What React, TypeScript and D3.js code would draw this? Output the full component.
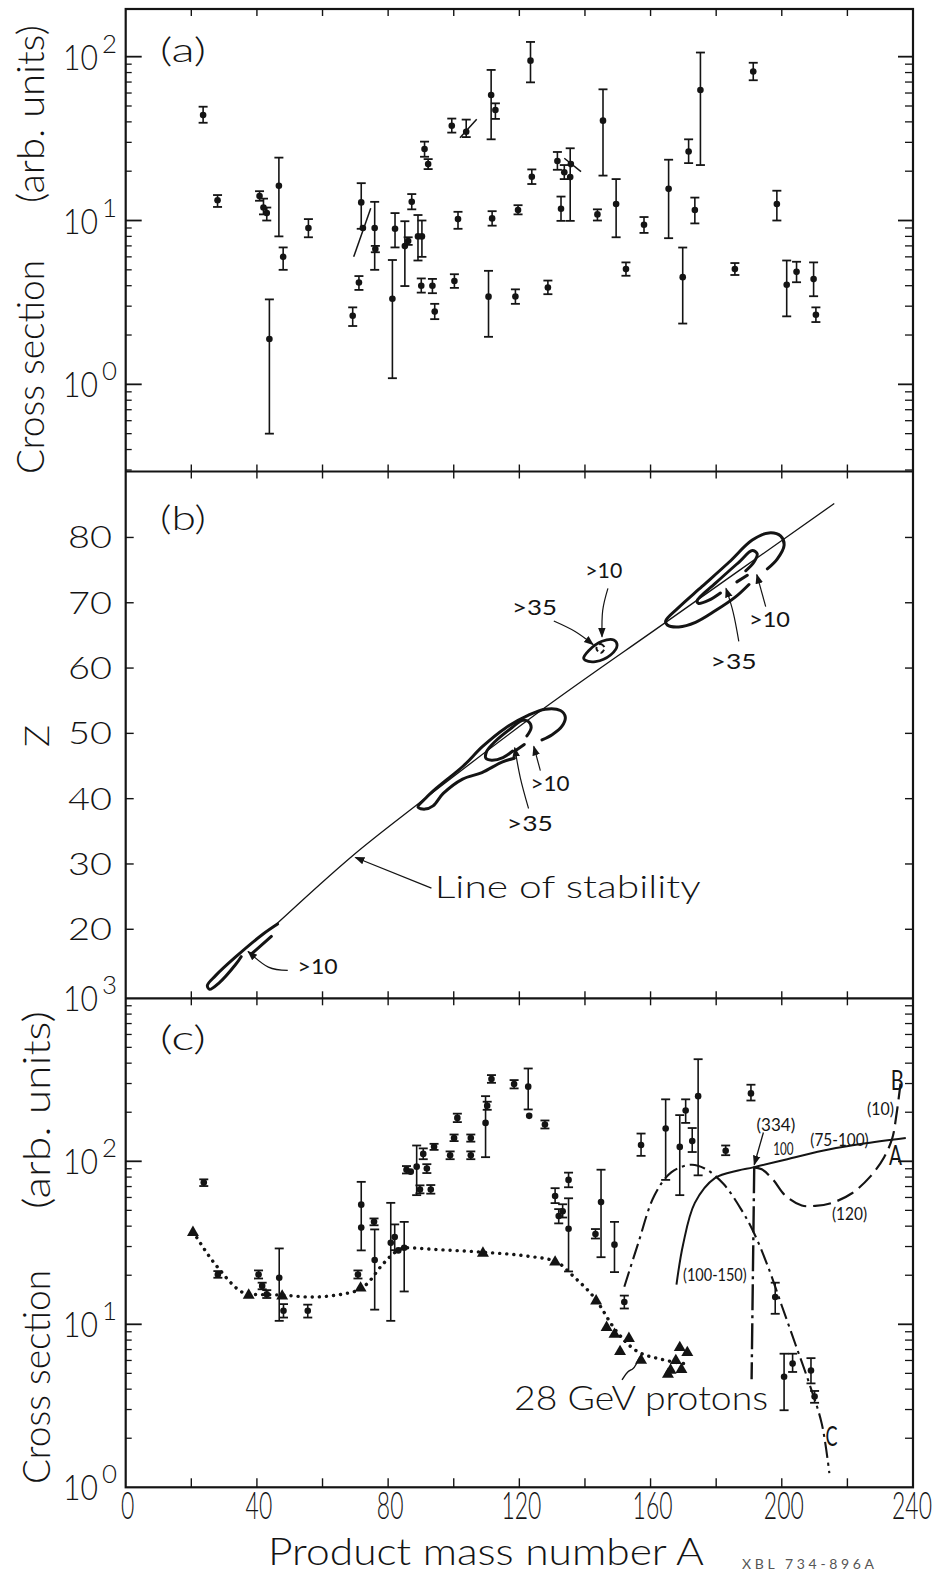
import { useEffect, useRef } from 'react';
import * as d3 from 'd3';

// ---------------- panel (a) ----------------
const aMass = [23.6, 28.0, 40.8, 42.0, 43.0, 46.7, 48.0, 43.8, 55.7, 69.2, 71.1, 71.8, 72.3, 75.9, 76.1, 81.3, 82.1, 85.1, 86.1, 87.2, 89.1, 90.3, 90.1, 93.5, 94.2, 91.1, 92.2, 99.4, 100.2, 101.3, 103.8,
  111.4, 112.7, 123.4, 123.8, 111.7, 110.6, 118.8, 119.6, 128.7, 131.6, 133.7, 132.7, 135.5, 135.7, 143.8, 145.5, 149.5, 152.5, 158.0, 165.5, 169.8, 171.6, 173.5, 175.2, 185.7, 191.3, 198.5, 201.5, 204.5, 209.7, 210.4];
const aValue = [44, 13.3, 14.1, 12.0, 11.1, 16.3, 6.0, 1.89, 9.0, 2.62, 4.18, 12.9, 9.0, 9.0, 6.7, 3.33, 8.9, 6.98, 7.5, 13.0, 8.0, 8.0, 4.0, 4.0, 2.78, 27.3, 22.1, 37.9, 4.27, 10.2, 34.8,
  58.3, 47.3, 94.6, 18.5, 10.3, 3.43, 3.44, 11.6, 3.9, 23.1, 19.7, 11.8, 18.4, 22.1, 10.9, 40.7, 12.6, 5.05, 9.42, 15.6, 4.51, 26.4, 11.6, 62.6, 5.05, 81.2, 12.6, 4.05, 4.86, 4.39, 2.66];
const aLow = [39.5, 12.1, 13.2, 10.9, 10.0, 8.0, 5.0, 0.5, 7.9, 2.27, 3.77, 8.9, 9.0, 5.0, 6.4, 1.09, 6.85, 3.98, 7.1, 11.7, 5.7, 6.0, 3.63, 3.6, 2.5, 24.5, 20.6, 34.4, 3.88, 8.9, 32.3,
  31.3, 41.7, 69.7, 16.7, 9.3, 1.95, 3.1, 10.9, 3.55, 20.4, 17.9, 9.95, 9.95, 22.1, 10.0, 18.8, 7.9, 4.6, 8.4, 7.8, 2.35, 22.4, 9.6, 21.8, 4.65, 71.8, 10.0, 2.6, 4.2, 3.45, 2.4];
const aHigh = [49.5, 14.3, 15.1, 13.6, 12.0, 24.2, 6.85, 3.3, 10.2, 2.95, 4.58, 16.9, 9.0, 13.0, 7.0, 5.74, 11.1, 9.9, 7.9, 14.5, 10.8, 10.0, 4.43, 4.4, 3.1, 30.3, 23.7, 41.9, 4.7, 11.3, 41.3,
  83, 51.9, 123, 20.5, 11.4, 4.93, 3.8, 12.4, 4.3, 26.2, 21.8, 14.0, 27.6, 22.1, 11.7, 63.2, 17.9, 5.55, 10.5, 23.5, 6.84, 31.3, 13.8, 106, 5.5, 91.8, 15.2, 5.7, 5.6, 5.55, 2.95];

// slanted strokes in (a)
const slantFromA = [69.5, 101.9, 133.7];
const slantFromV = [6.0, 32.0, 24.0];
const slantToA = [74.7, 107.0, 138.8];
const slantToV = [11.9, 41.5, 19.9];

// ---------------- panel (b) ----------------
const stabilityA = [45.3, 69, 88.6, 127.4, 164.6, 216];
const stabilityZ = [20.5, 31.2, 39, 53.8, 67, 85.2];

const loopLow = [[46.3, 20.8], [41.7, 19.2], [33.6, 15.8], [27.4, 12.9], [24.9, 11.4], [25.6, 10.8], [28.5, 11.8], [33.5, 14.6], [35.2, 15.8]];
const loopLowDash = [[38.5, 16.3], [44.4, 18.9]];

const loopMidOuter = [[118.5, 46.2], [114.7, 45.6], [108.6, 44.0], [102.7, 43.0], [96.8, 40.8], [93.7, 38.9], [91.2, 38.4], [89.1, 38.7], [91.5, 40.1], [94.7, 41.6], [102.9, 45.0], [108.8, 48.0], [115.7, 50.8], [122.8, 52.8], [127.9, 53.7], [132.5, 53.5], [134, 52.5], [133, 51.1], [130, 49.8], [126.9, 49.0]];
const loopMidInner = [[122.3, 49.6], [123.6, 50.9], [122.8, 51.8], [121.0, 52.0], [117.8, 50.9], [112.7, 48.8], [110.0, 47.2], [109.8, 46.2], [111.5, 45.9], [115.0, 46.3], [118.0, 47.3]];
const loopMidDash = [[119.2, 47.5], [121.5, 48.3]];

const loopSmallOuter = [[139.6, 61.5], [141.2, 62.7], [145.2, 64.1], [148.8, 64.3], [149.8, 63.5], [147.8, 62.0], [143.2, 61.0], [140.1, 61.2]];
const loopSmallInner = [[143.5, 63.0], [144.7, 63.7], [146.0, 63.1], [144.8, 62.3]];

const loopUpOuter = [[190.0, 72.8], [185.9, 70.9], [179.8, 68.8], [173.7, 67.0], [168.6, 66.3], [165.1, 66.6], [164.6, 67.2], [168.6, 69.3], [175.7, 72.5], [183.9, 76.2], [191.0, 79.6], [196.1, 80.7], [199.7, 80.2], [200.7, 78.8], [198.6, 76.7], [195.6, 75.2]];
const loopUpInner = [[181.3, 71.5], [177.8, 70.4], [174.6, 69.9], [174.2, 70.3], [179.8, 73.0], [186.9, 76.2], [191.0, 78.0], [192.5, 77.5], [191.5, 76.2], [189.0, 74.9]];
const loopUpDash = [[186.3, 73.2], [189.5, 74.2]];

const bArrows = [
  [[49.4, 13.7], [43.5, 14.2], [37.3, 16.6]],
  [[126.4, 44.3], [124.4, 48.0]],
  [[122.8, 38.5], [120.3, 43.2], [118.6, 47.8]],
  [[147.0, 72.2], [145.4, 68.8], [145.2, 64.8]],
  [[130.5, 67.2], [137, 65.6], [142.5, 63.6]],
  [[195.1, 69.4], [192.4, 74.3]],
  [[186.9, 64.1], [185.2, 68.5], [183.0, 72.2]],
  [[93.2, 26.3], [70.0, 31.0]],
];

const bNotes = [
  { t: '>10', a: 52.4, z: 13.2, w: 40 },
  { t: '>10', a: 123.4, z: 41.1, w: 39 },
  { t: '>35', a: 116.2, z: 35.0, w: 46 },
  { t: '>10', a: 140.1, z: 73.8, w: 37 },
  { t: '>35', a: 117.8, z: 68.2, w: 45 },
  { t: '>10', a: 190.0, z: 66.3, w: 41 },
  { t: '>35', a: 178.3, z: 59.8, w: 46 },
];

// ---------------- panel (c) ----------------
const cMass = [23.8, 28.1, 40.5, 41.6, 43.0, 46.8, 48.1, 55.5, 70.8, 71.8, 71.8, 75.7, 75.9, 80.8, 82.0, 83.1, 84.9, 85.6, 86.9, 88.7, 89.7, 90.7, 91.8, 93.0, 94.0, 98.9, 100.1, 101.1, 105.2, 105.2,
  109.7, 110.2, 111.5, 118.4, 122.7, 123.0, 127.8, 130.9, 132.0, 133.2, 135.0, 135.0, 143.2, 144.9, 149.0, 152.0, 157.1, 164.6, 168.9, 170.7, 172.7, 174.5, 182.9, 190.6, 198.0, 200.7, 203.3, 208.9, 210.0];
const cValue = [74.0, 20.2, 20.2, 17.2, 15.3, 19.3, 12.1, 12.1, 20.2, 54.2, 39.2, 42.5, 24.8, 31.6, 34.3, 28.4, 29.5, 88.8, 86.4, 92.7, 67.2, 111, 90.3, 67.2, 122.7, 109, 139, 184.6, 109, 139,
  172, 219, 320, 298, 287, 190, 168, 61.3, 46.1, 49.4, 76.9, 38.6, 35.8, 56.2, 30.8, 13.7, 126, 159, 122.6, 205, 133, 251, 116, 261, 14.7, 4.77, 5.74, 5.21, 3.6];
const cLow = [70.5, 19.3, 19.1, 16.4, 14.5, 10.5, 11.0, 11.0, 19.1, 28.4, 39.2, 40.5, 12.3, 10.5, 28.5, 28.4, 15.9, 84.2, 86.4, 62, 63.6, 103, 84.7, 63.3, 117.5, 103, 133, 174, 103, 132,
  106, 207, 303, 280, 208, 190, 159, 55.4, 41.6, 45.2, 69.3, 21.1, 33.6, 25.8, 20.9, 12.5, 108, 76.9, 62, 172, 114, 82, 109, 236, 11.6, 2.97, 5.1, 4.34, 3.3];
const cHigh = [77.5, 21.2, 21.4, 18.0, 16.2, 29.2, 13.3, 13.2, 21.4, 74.8, 39.2, 44.6, 38.2, 55.6, 41.0, 28.4, 42.5, 93.5, 86.4, 125, 71.2, 120, 96.0, 71.5, 128, 115, 146, 196, 115, 146,
  251, 232, 338, 315, 371, 190, 178, 68.4, 50.9, 54.5, 85.2, 59.3, 38.4, 88.8, 42.5, 15.0, 148, 240, 192, 240, 160, 423, 125, 295, 18.0, 6.6, 6.6, 6.2, 3.9];

// 28 GeV protons (triangles) and their dotted curve
const protonMass = [20.5, 37.5, 47.7, 71.6, 108.9, 130.9, 143.4, 146.6, 149.0, 153.4, 150.7, 157.1, 168.9, 171.2, 167.7, 165.3, 166.1, 169.4];
const protonValue = [37.1, 15.3, 15.1, 16.9, 27.7, 24.4, 14.1, 9.7, 8.8, 8.3, 6.9, 6.1, 7.3, 6.8, 6.07, 5.0, 5.3, 5.36];
const dotCurveA = [20.5, 28, 37.5, 47.7, 56.5, 70.8, 73.9, 78, 83, 85.1, 94.3, 108.9, 122.4, 130.9, 136.7, 143.4, 149, 155.1, 163.3, 171.4];
const dotCurveV = [37.1, 22.4, 15.3, 15.1, 14.7, 16.1, 18.0, 22.9, 28.4, 29.5, 28.8, 27.7, 26.2, 24.4, 19.5, 14.1, 9.4, 7.0, 6.1, 5.7];

// calculated curves A, B, C
const curveAMass = [167.9, 169.9, 173.5, 179.6, 186.7, 191.3, 204.1, 214.3, 224.5, 237.8];
const curveAValue = [17.5, 30.8, 55.6, 78.9, 87.9, 91.8, 106, 118, 128, 139];
const curveBMass = [191.3, 193.9, 197.4, 201, 206.1, 210.2, 215.3, 221.4, 227.1, 231.2, 233.7, 234.9, 236.2];
const curveBValue = [91.8, 89.3, 76.9, 61.9, 53.6, 53.3, 55.6, 63.7, 81.1, 106, 139, 190, 300];
const dropMass = [191.6, 190.8];
const dropValue = [91.8, 4.6];
const curveCMass = [152, 156.1, 161.2, 166.3, 172.4, 176.5, 182.2, 187.8, 191.6, 195.9, 200, 204.1, 208.2, 212.2, 214.5];
const curveCValue = [17, 30.8, 61.9, 85.5, 95.3, 90.4, 72.8, 50.0, 36.1, 22.3, 13.0, 7.6, 4.44, 2.45, 1.22];

const squiggle = [[151.3, 4.56], [153.1, 5.2], [154.6, 5.27], [155.6, 5.65], [156.6, 6.3], [157.7, 6.6]];
const arrow334 = [[194.4, 150.3], [191.6, 95.3]];

const cNotes = [
  { t: '(334)', a: 192.3, v: 154.5, w: 38.7, s: 18 },
  { t: '100', a: 197.4, v: 108.9, w: 20.3, s: 18 },
  { t: '(75-100)', a: 208.7, v: 124.7, w: 58.4, s: 18 },
  { t: '(10)', a: 226, v: 191.9, w: 26.9, s: 18 },
  { t: 'B', a: 233.2, v: 272.3, w: 13, s: 27 },
  { t: 'A', a: 232.7, v: 95.3, w: 13, s: 27 },
  { t: '(120)', a: 215.3, v: 43.6, w: 35.1, s: 18 },
  { t: '(100-150)', a: 169.9, v: 18.45, w: 63.6, s: 18 },
  { t: 'C', a: 213.3, v: 1.78, w: 12, s: 27 },
  { t: '28 GeV protons', a: 118.4, v: 2.96, w: 254, s: 34 },
];

const massTicks = [0, 40, 80, 120, 160, 200, 240];
const zTicks = [20, 30, 40, 50, 60, 70, 80];

const W = 942;
const H = 1575;
const INK = '#141414';
const FONT = "Lato, 'DejaVu Sans', sans-serif";

const App = () => {
  const svgRef = useRef<SVGSVGElement>(null);

  useEffect(() => {
    const svg = d3.select(svgRef.current);
    svg.selectAll('*').remove();

    const TOP = 9;
    const DIV1 = 471.5;
    const DIV2 = 998.3;
    const BOTTOM = 1487.3;

    const x = d3.scaleLinear().domain([0, 240]).range([125.7, 913]);
    const yA = d3.scaleLog().domain([10 ** -0.532, 10 ** 2.291]).range([DIV1, TOP]);
    const yB = d3.scaleLinear().domain([9.43, 90.1]).range([DIV2, DIV1]);
    const yC = d3.scaleLog().domain([1, 1000]).range([BOTTOM, DIV2]);

    const g = svg.append('g').attr('font-family', FONT).attr('fill', INK);

    const defs = svg.append('defs');
    defs.append('marker')
      .attr('id', 'ah')
      .attr('viewBox', '0 0 10 10')
      .attr('refX', 9)
      .attr('refY', 5)
      .attr('markerWidth', 10)
      .attr('markerHeight', 10)
      .attr('markerUnits', 'userSpaceOnUse')
      .attr('orient', 'auto')
      .append('path')
      .attr('d', 'M0,1.2 L10,5 L0,8.8 Z')
      .attr('fill', INK);

    // ==========================================
    // FRAME + TICKS
    // ==========================================
    g.append('rect')
      .attr('x', x(0)).attr('y', TOP)
      .attr('width', x(240) - x(0)).attr('height', BOTTOM - TOP)
      .attr('fill', 'none').attr('stroke', INK).attr('stroke-width', 2.2);
    [DIV1, DIV2].forEach((yy) => {
      g.append('line').attr('x1', x(0)).attr('x2', x(240)).attr('y1', yy).attr('y2', yy)
        .attr('stroke', INK).attr('stroke-width', 2.2);
    });

    const tick = (x1: number, y1: number, x2: number, y2: number, w = 1.4) =>
      g.append('line').attr('x1', x1).attr('y1', y1).attr('x2', x2).attr('y2', y2)
        .attr('stroke', INK).attr('stroke-width', w);

    d3.range(20, 240, 20).forEach((v) => {
      const xx = x(v);
      tick(xx, TOP, xx, TOP + 7);
      tick(xx, DIV1 - 7, xx, DIV1 + 7);
      tick(xx, DIV2 - 7, xx, DIV2 + 7);
      tick(xx, BOTTOM - 9, xx, BOTTOM);
    });

    const logTicks = (scale: d3.ScaleLogarithmic<number, number>) => {
      const [lo, hi] = scale.domain();
      const out: { v: number; major: boolean }[] = [];
      for (let e = -1; e <= 3; e++) {
        for (let m = 1; m <= 9; m++) {
          const v = m * 10 ** e;
          if (v > lo * 1.001 && v < hi * 0.999) out.push({ v, major: m === 1 });
        }
      }
      return out;
    };
    [yA, yC].forEach((sc) => {
      logTicks(sc).forEach(({ v, major }) => {
        const yy = sc(v);
        const len = major ? 16 : 6;
        tick(x(0), yy, x(0) + len, yy, major ? 1.8 : 1.3);
        tick(x(240) - (major ? 15 : 8), yy, x(240), yy, major ? 1.8 : 1.3);
      });
    });
    zTicks.forEach((z) => {
      tick(x(0), yB(z), x(0) + 8, yB(z));
      tick(x(240) - 8, yB(z), x(240), yB(z));
    });

    // ==========================================
    // TICK LABELS
    // ==========================================
    const decade = (yy: number, exp: number) => {
      g.append('text').attr('x', 63).attr('y', yy + 13)
        .attr('font-size', 36).attr('font-weight', 300)
        .attr('textLength', 35).attr('lengthAdjust', 'spacingAndGlyphs')
        .text('10');
      g.append('text').attr('x', 102).attr('y', yy - 4)
        .attr('font-size', 26).attr('font-weight', 300)
        .attr('textLength', 15).attr('lengthAdjust', 'spacingAndGlyphs')
        .text(String(exp));
    };
    [0, 1, 2].forEach((e) => decade(yA(10 ** e), e));
    [0, 1, 2, 3].forEach((e) => decade(yC(10 ** e), e));

    zTicks.forEach((z) => {
      g.append('text').attr('x', 112).attr('y', yB(z) + 11)
        .attr('text-anchor', 'end').attr('font-size', 31).attr('font-weight', 300)
        .attr('textLength', 44).attr('lengthAdjust', 'spacingAndGlyphs')
        .text(String(z));
    });

    // condensed bottom numbers: squeezed horizontally by a transform
    massTicks.forEach((v) => {
      const cx = v === 240 ? x(v) - 1 : x(v) + 2;
      g.append('text')
        .attr('transform', `translate(${cx},1519) scale(0.62,1)`)
        .attr('text-anchor', 'middle').attr('font-size', 37).attr('font-weight', 300)
        .text(String(v));
    });

    // ==========================================
    // TITLES
    // ==========================================
    g.append('text').attr('x', 268).attr('y', 1565).attr('font-size', 38).attr('font-weight', 300)
      .attr('textLength', 436).attr('lengthAdjust', 'spacingAndGlyphs')
      .text('Product  mass  number  A');

    const vtext = (t: string, bx: number, cy: number, len: number, size = 38) =>
      g.append('text')
        .attr('transform', `translate(${bx},${cy}) rotate(-90)`)
        .attr('text-anchor', 'middle').attr('font-size', size).attr('font-weight', 300)
        .attr('textLength', len).attr('lengthAdjust', 'spacingAndGlyphs')
        .text(t);
    vtext('Cross section', 44, 367, 214);
    vtext('(arb. units)', 44, 114, 178);
    vtext('Cross section', 50, 1377, 214);
    vtext('(arb. units)', 50, 1110, 198);
    vtext('Z', 49, 736, 22, 34);

    [['(a)', 62], ['(b)', 530], ['(c)', 1050]].forEach(([t, yy]) => {
      g.append('text').attr('x', 160).attr('y', yy as number).attr('font-size', 34).attr('font-weight', 300)
        .attr('textLength', 46).attr('lengthAdjust', 'spacingAndGlyphs')
        .text(t as string);
    });

    g.append('text').attr('x', 742).attr('y', 1569).attr('font-size', 14)
      .attr('fill', '#555').attr('textLength', 132).text('XBL 734-896A');

    // ==========================================
    // ERROR-BAR POINTS
    // ==========================================
    const points = (mass: number[], val: number[], low: number[], high: number[], sc: d3.ScaleLogarithmic<number, number>) => {
      mass.forEach((m, i) => {
        const xx = x(m);
        if (high[i] > low[i]) {
          tick(xx, sc(low[i]), xx, sc(high[i]), 1.6);
          tick(xx - 4.5, sc(low[i]), xx + 4.5, sc(low[i]), 1.8);
          tick(xx - 4.5, sc(high[i]), xx + 4.5, sc(high[i]), 1.8);
        }
        g.append('circle').attr('cx', xx).attr('cy', sc(val[i])).attr('r', 3.3).attr('fill', INK);
      });
    };
    points(aMass, aValue, aLow, aHigh, yA);
    points(cMass, cValue, cLow, cHigh, yC);

    slantFromA.forEach((a, i) => {
      tick(x(a), yA(slantFromV[i]), x(slantToA[i]), yA(slantToV[i]), 1.5);
    });

    // ==========================================
    // PANEL (b)
    // ==========================================
    const lineB = d3.line<number[]>().x((d) => x(d[0])).y((d) => yB(d[1]));

    g.append('path')
      .attr('d', lineB.curve(d3.curveCatmullRom)(d3.zip(stabilityA, stabilityZ)))
      .attr('fill', 'none').attr('stroke', INK).attr('stroke-width', 1.3);

    const loops = [loopLow, loopLowDash, loopMidOuter, loopMidInner, loopMidDash, loopUpOuter, loopUpInner, loopUpDash];
    loops.forEach((pts) => {
      g.append('path')
        .attr('d', lineB.curve(d3.curveCatmullRom.alpha(0.5))(pts))
        .attr('fill', 'none').attr('stroke', INK).attr('stroke-width', 3)
        .attr('stroke-linecap', 'round');
    });
    [loopSmallOuter, loopSmallInner].forEach((pts, i) => {
      g.append('path')
        .attr('d', lineB.curve(d3.curveCatmullRomClosed)(pts))
        .attr('fill', 'none').attr('stroke', INK).attr('stroke-width', i === 0 ? 2.8 : 2)
        .attr('stroke-dasharray', i === 0 ? null : '5 3');
    });

    bArrows.forEach((pts) => {
      g.append('path')
        .attr('d', lineB.curve(d3.curveNatural)(pts))
        .attr('fill', 'none').attr('stroke', INK).attr('stroke-width', 1.2)
        .attr('marker-end', 'url(#ah)');
    });

    bNotes.forEach((n) => {
      g.append('text').attr('x', x(n.a)).attr('y', yB(n.z))
        .attr('font-size', 21).attr('textLength', n.w).attr('lengthAdjust', 'spacingAndGlyphs')
        .text(n.t);
    });
    g.append('text').attr('x', x(94.2)).attr('y', yB(24.8))
      .attr('font-size', 32).attr('font-weight', 300).attr('textLength', 266).attr('lengthAdjust', 'spacingAndGlyphs')
      .text('Line  of  stability');

    // ==========================================
    // PANEL (c) CURVES
    // ==========================================
    const lineC = d3.line<number[]>().x((d) => x(d[0])).y((d) => yC(d[1]));

    g.append('path')
      .attr('d', lineC.curve(d3.curveMonotoneX)(d3.zip(dotCurveA, dotCurveV)))
      .attr('fill', 'none').attr('stroke', INK).attr('stroke-width', 3.4)
      .attr('stroke-linecap', 'round').attr('stroke-dasharray', '0.1 7');

    g.append('path')
      .attr('d', lineC.curve(d3.curveCatmullRom)(d3.zip(curveAMass, curveAValue)))
      .attr('fill', 'none').attr('stroke', INK).attr('stroke-width', 2);
    g.append('path')
      .attr('d', lineC.curve(d3.curveCatmullRom)(d3.zip(curveBMass, curveBValue)))
      .attr('fill', 'none').attr('stroke', INK).attr('stroke-width', 2.2)
      .attr('stroke-dasharray', '18 7');
    g.append('path')
      .attr('d', lineC.curve(d3.curveLinear)(d3.zip(dropMass, dropValue)))
      .attr('fill', 'none').attr('stroke', INK).attr('stroke-width', 2.4)
      .attr('stroke-dasharray', '26 5 3 5');
    g.append('path')
      .attr('d', lineC.curve(d3.curveCatmullRom)(d3.zip(curveCMass, curveCValue)))
      .attr('fill', 'none').attr('stroke', INK).attr('stroke-width', 2.1)
      .attr('stroke-dasharray', '16 5 3 5');

    g.append('path')
      .attr('d', lineC.curve(d3.curveBasis)(squiggle))
      .attr('fill', 'none').attr('stroke', INK).attr('stroke-width', 1.4);
    g.append('path')
      .attr('d', lineC.curve(d3.curveLinear)(arrow334))
      .attr('fill', 'none').attr('stroke', INK).attr('stroke-width', 1.3)
      .attr('marker-end', 'url(#ah)');

    const tri = d3.symbol().type(d3.symbolTriangle).size(62);
    protonMass.forEach((m, i) => {
      g.append('path')
        .attr('transform', `translate(${x(m)},${yC(protonValue[i]) + 1})`)
        .attr('d', tri())
        .attr('fill', INK);
    });

    cNotes.forEach((n) => {
      g.append('text').attr('x', x(n.a)).attr('y', yC(n.v))
        .attr('font-size', n.s).attr('font-weight', n.s > 30 ? 300 : 400)
        .attr('textLength', n.w).attr('lengthAdjust', 'spacingAndGlyphs')
        .text(n.t);
    });
  }, []);

  return (
    <div style={{ position: 'absolute', left: 0, top: 0, width: W, height: H, background: '#fff' }}>
      <svg ref={svgRef} width={W} height={H} style={{ display: 'block' }}></svg>
    </div>
  );
};

export default App;
